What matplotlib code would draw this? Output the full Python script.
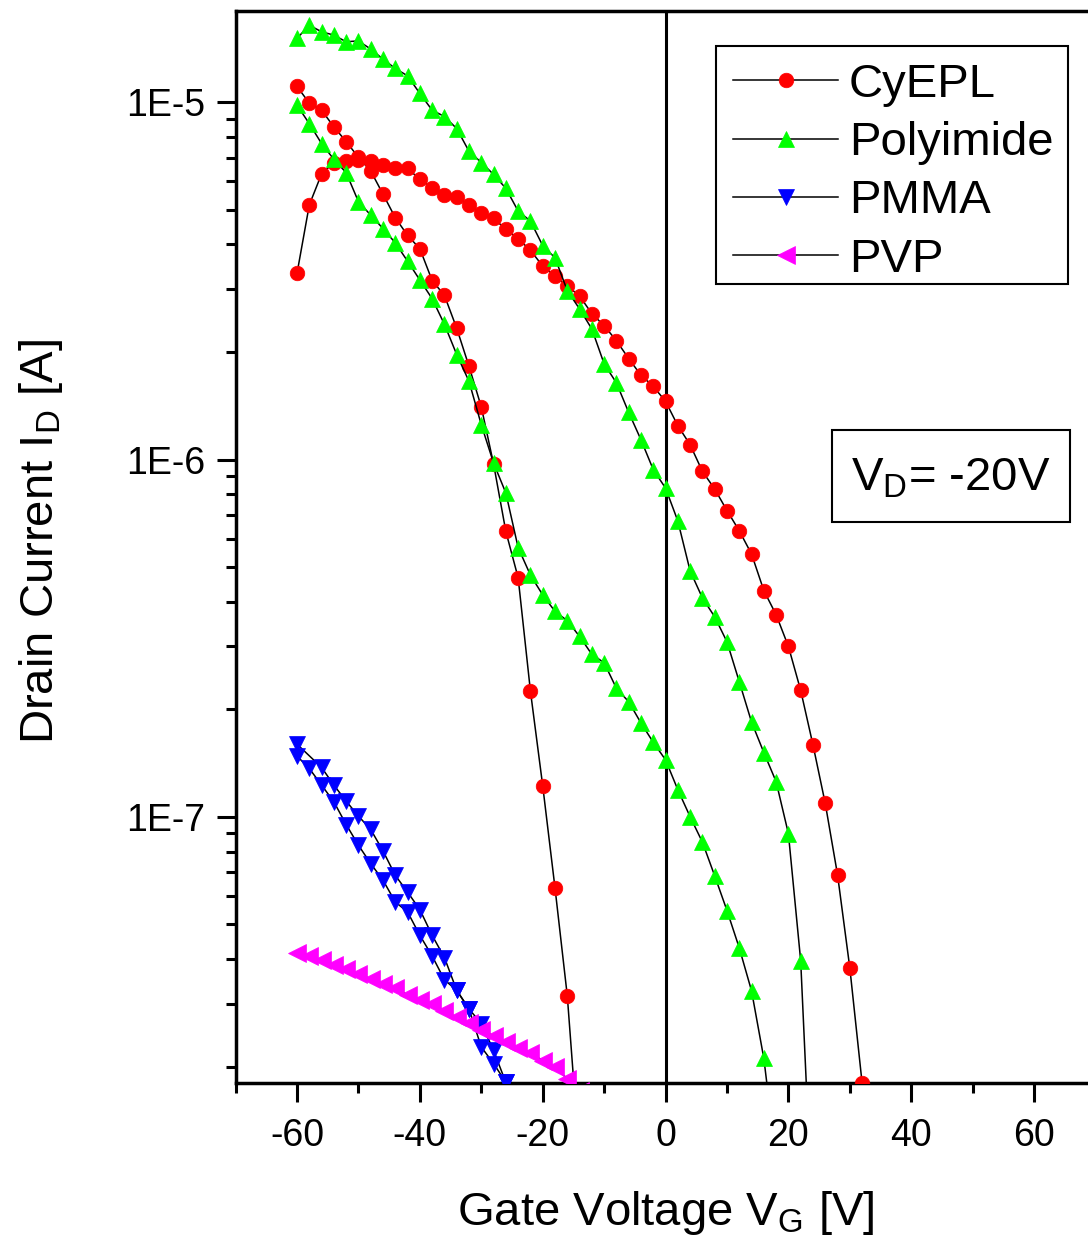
import numpy as np
import matplotlib
matplotlib.use("Agg")
import matplotlib.pyplot as plt
from matplotlib.ticker import FixedLocator, FixedFormatter, LogLocator, NullFormatter
from matplotlib.patches import Rectangle

plt.rcParams['font.family'] = ['Liberation Sans', 'DejaVu Sans']
plt.rcParams['mathtext.default'] = 'regular'
plt.rcParams['axes.unicode_minus'] = False

# ---------------- data ----------------
# CyEPL: steep branch (starts high at -60 V)
cyepl_a_vg = np.arange(-60, -13, 2)
cyepl_a_id = [1.107e-5, 9.94e-6, 9.50e-6, 8.53e-6, 7.76e-6, 7.01e-6, 6.42e-6, 5.53e-6,
              4.75e-6, 4.24e-6, 3.89e-6, 3.17e-6, 2.88e-6, 2.33e-6, 1.824e-6, 1.404e-6,
              9.72e-7, 6.29e-7, 4.67e-7, 2.25e-7, 1.222e-7, 6.33e-8, 3.16e-8, 1.1e-8]
# CyEPL: slow branch (starts low at -60 V)
cyepl_b_vg = np.arange(-60, 33, 2)
cyepl_b_id = [3.32e-6, 5.16e-6, 6.30e-6, 6.78e-6, 6.85e-6, 6.89e-6, 6.85e-6, 6.67e-6,
              6.53e-6, 6.53e-6, 6.08e-6, 5.77e-6, 5.51e-6, 5.44e-6, 5.14e-6, 4.91e-6,
              4.73e-6, 4.41e-6, 4.15e-6, 3.85e-6, 3.48e-6, 3.26e-6, 3.06e-6, 2.87e-6,
              2.56e-6, 2.37e-6, 2.15e-6, 1.917e-6, 1.721e-6, 1.603e-6, 1.455e-6, 1.244e-6,
              1.100e-6, 9.27e-7, 8.27e-7, 7.20e-7, 6.32e-7, 5.44e-7, 4.30e-7, 3.68e-7,
              3.00e-7, 2.26e-7, 1.591e-7, 1.091e-7, 6.89e-8, 3.78e-8, 1.80e-8]

# Polyimide: upper branch
pi_a_vg = np.arange(-60, 25, 2)
pi_a_id = [1.509e-5, 1.643e-5, 1.574e-5, 1.541e-5, 1.476e-5, 1.485e-5, 1.408e-5, 1.320e-5,
           1.243e-5, 1.185e-5, 1.058e-5, 9.50e-6, 9.12e-6, 8.44e-6, 7.29e-6, 6.78e-6,
           6.28e-6, 5.74e-6, 4.96e-6, 4.65e-6, 3.97e-6, 3.67e-6, 2.97e-6, 2.64e-6,
           2.32e-6, 1.853e-6, 1.639e-6, 1.355e-6, 1.136e-6, 9.37e-7, 8.32e-7, 6.73e-7,
           4.88e-7, 4.10e-7, 3.63e-7, 3.09e-7, 2.39e-7, 1.843e-7, 1.514e-7, 1.255e-7,
           8.98e-8, 3.96e-8, 7.0e-9]
# Polyimide: lower branch
pi_b_vg = np.arange(-60, 19, 2)
pi_b_id = [9.81e-6, 8.71e-6, 7.66e-6, 6.92e-6, 6.35e-6, 5.27e-6, 4.83e-6, 4.43e-6,
           4.04e-6, 3.59e-6, 3.18e-6, 2.82e-6, 2.39e-6, 1.967e-6, 1.656e-6, 1.252e-6,
           9.78e-7, 8.06e-7, 5.67e-7, 4.75e-7, 4.18e-7, 3.76e-7, 3.54e-7, 3.20e-7,
           2.85e-7, 2.70e-7, 2.29e-7, 2.10e-7, 1.831e-7, 1.617e-7, 1.444e-7, 1.191e-7,
           1.001e-7, 8.50e-8, 6.84e-8, 5.47e-8, 4.30e-8, 3.26e-8, 2.11e-8, 1.1e-8]

# PMMA: two sweeps
pmma_a_vg = [-60, -56, -54, -52, -50, -48, -46, -44, -42, -40, -38, -36, -34, -32, -30, -28, -26]
pmma_a_id = [1.598e-7, 1.375e-7, 1.227e-7, 1.107e-7, 1.005e-7, 9.22e-8, 8.03e-8, 6.86e-8,
             6.16e-8, 5.50e-8, 4.66e-8, 4.04e-8, 3.27e-8, 2.90e-8, 2.64e-8, 2.22e-8, 1.806e-8]
pmma_b_vg = np.arange(-60, -25, 2)
pmma_b_id = [1.480e-7, 1.366e-7, 1.227e-7, 1.102e-7, 9.52e-8, 8.33e-8, 7.40e-8, 6.65e-8,
             5.78e-8, 5.42e-8, 4.66e-8, 4.08e-8, 3.50e-8, 3.27e-8, 2.90e-8, 2.27e-8,
             2.04e-8, 1.81e-8]

# PVP
pvp_vg = np.arange(-60, -13, 2)
pvp_id = [4.15e-8, 4.08e-8, 3.97e-8, 3.86e-8, 3.76e-8, 3.64e-8, 3.52e-8, 3.41e-8,
          3.31e-8, 3.18e-8, 3.08e-8, 2.99e-8, 2.86e-8, 2.75e-8, 2.65e-8, 2.54e-8,
          2.44e-8, 2.35e-8, 2.26e-8, 2.19e-8, 2.08e-8, 1.99e-8, 1.85e-8, 1.71e-8]

x_ticks = [-60, -40, -20, 0, 20, 40, 60]
x_minor = [-70, -50, -30, -10, 10, 30, 50]
y_ticks = [1e-7, 1e-6, 1e-5]
y_tick_labels = ['1E-7', '1E-6', '1E-5']
legend_labels = ['CyEPL', 'Polyimide', 'PMMA', 'PVP']

# ---------------- figure ----------------
W, H = 1088, 1241
fig = plt.figure(figsize=(W / 100, H / 100), dpi=100)
ax = fig.add_axes([235.6 / W, 1 - 1083 / H, (1095.5 - 235.6) / W, (1083 - 11) / H])

ax.set_yscale('log')
ax.set_xlim(-70, 70)
ax.set_ylim(1.8e-8, 1.8e-5)

ax.axvline(0, color='black', lw=2.2, zorder=1)

lw = 1.1
st_c = dict(color='black', lw=lw, marker='o', ms=10.5, mfc='#FF0000', mec='#FF0000', mew=0.5, zorder=3)
st_p = dict(color='black', lw=lw, marker='^', ms=12, mfc='#00FF00', mec='#00FF00', mew=0.5, zorder=4)
st_m = dict(color='black', lw=lw, marker='v', ms=12, mfc='#0000FF', mec='#0000FF', mew=0.5, zorder=5)
st_v = dict(color='black', lw=lw, marker='<', ms=12.5, mfc='#FF00FF', mec='#FF00FF', mew=0.5, zorder=6)

h1, = ax.plot(cyepl_a_vg, cyepl_a_id, label=legend_labels[0], **st_c)
ax.plot(cyepl_b_vg, cyepl_b_id, **st_c)
h2, = ax.plot(pi_a_vg, pi_a_id, label=legend_labels[1], **st_p)
ax.plot(pi_b_vg, pi_b_id, **st_p)
h3, = ax.plot(pmma_a_vg, pmma_a_id, label=legend_labels[2], **st_m)
ax.plot(pmma_b_vg, pmma_b_id, **st_m)
h4, = ax.plot(pvp_vg, pvp_id, label=legend_labels[3], **st_v)

# ticks
ax.xaxis.set_major_locator(FixedLocator(x_ticks))
ax.xaxis.set_minor_locator(FixedLocator(x_minor))
ax.yaxis.set_major_locator(FixedLocator(y_ticks))
ax.yaxis.set_major_formatter(FixedFormatter(y_tick_labels))
ax.yaxis.set_minor_locator(LogLocator(base=10, subs=np.arange(2, 10)))
ax.yaxis.set_minor_formatter(NullFormatter())
ax.tick_params(which='major', direction='out', length=14, width=2.2)
ax.tick_params(which='minor', direction='out', length=7, width=2.2)
ax.tick_params(axis='x', labelsize=27, pad=11)
ax.tick_params(axis='y', labelsize=27, pad=8)
for s in ax.spines.values():
    s.set_linewidth(2.5)

# axis labels
fig.text(665.5 / W, 1 - 1213 / H, r'Gate Voltage V$_G$ [V]', ha='center', va='center', fontsize=34)
fig.text(41 / W, 1 - 542 / H, r'Drain Current I$_D$ [A]', ha='center', va='center',
         rotation=90, fontsize=34)

# legend (frame drawn separately, inside the axes so the legend sits on top)
ax.add_patch(Rectangle((716 / W, 1 - 284 / H), 352 / W, 238 / H, transform=fig.transFigure,
                       fill=True, fc='white', ec='black', lw=1.5, zorder=8, clip_on=False))
leg = ax.legend(handles=[h1, h2, h3, h4], loc='upper left',
                bbox_to_anchor=(733 / W, 1 - 63 / H), bbox_transform=fig.transFigure,
                borderaxespad=0, fontsize=34, labelspacing=0.30, handlelength=2.23,
                handletextpad=0.22, borderpad=0, frameon=False)
leg.set_zorder(10)

# V_D annotation box
fig.add_artist(Rectangle((832 / W, 1 - 522 / H), 238 / W, 92 / H, transform=fig.transFigure,
                         fill=False, ec='black', lw=1.5))
fig.text(950.5 / W, 1 - 478 / H, r'V$_D$= -20V', ha='center', va='center', fontsize=34)

fig.savefig('out.png', dpi=100)
